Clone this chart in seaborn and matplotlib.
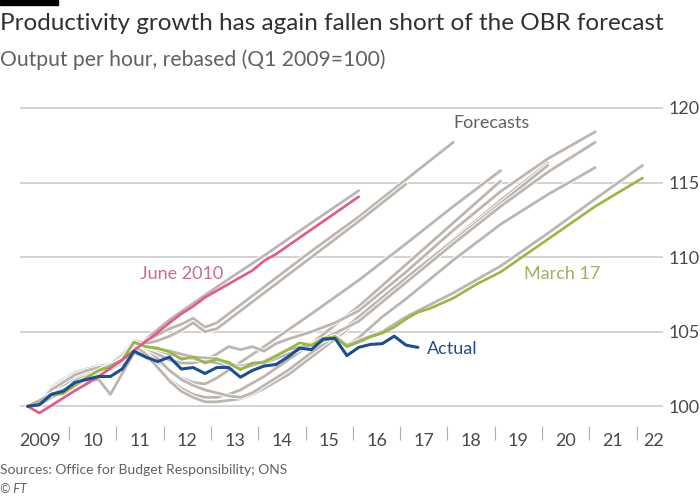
import numpy as np
import pandas as pd
import matplotlib
matplotlib.use("Agg")
import matplotlib.pyplot as plt
import matplotlib.patheffects as pe
from matplotlib.patches import Rectangle
import seaborn as sns

# Quarter index 0 = Q1 2009; output per hour, Q1 2009 = 100
actual = [100.0, 100.1, 100.8, 101.0, 101.6, 101.8, 102.0, 102.0, 102.5, 103.7,
          103.3, 103.0, 103.3, 102.5, 102.6, 102.2, 102.6, 102.6, 101.95, 102.4,
          102.7, 102.8, 103.3, 103.9, 103.8, 104.5, 104.55, 103.4, 103.95, 104.15,
          104.2, 104.7, 104.1, 103.95]

june_2010 = [100.0, 99.55, 100.05, 100.55, 101.05, 101.5, 102.0, 102.55, 103.1, 103.75,
             104.35, 104.95, 105.6, 106.2, 106.7, 107.3, 107.75, 108.2, 108.65, 109.1,
             109.75, 110.2, 110.75, 111.3, 111.85, 112.4, 112.95, 113.5, 114.05]

march_17_q = list(range(34)) + [34, 36, 38, 40, 42, 44, 48, 52]
march_17 = [100.0, 100.2, 100.75, 100.85, 101.4, 101.95, 102.4, 102.65, 103.1, 104.3,
            104.0, 103.9, 103.65, 103.15, 103.3, 102.9, 103.15, 102.95, 102.45, 102.9,
            102.95, 103.35, 103.8, 104.25, 104.1, 104.55, 104.65, 104.0, 104.3, 104.65,
            104.9, 105.3, 105.85, 106.3,
            106.55, 107.25, 108.2, 109.0, 110.1, 111.2, 113.4, 115.3]

# Earlier OBR forecast vintages (grey): quarter index knots and values
fc_a_q = [0, 1, 2, 3, 4, 5, 6, 7, 8, 9, 10, 12, 16, 20, 24, 28]
fc_a_v = [100.0, 100.1, 100.7, 101.1, 101.5, 101.9, 102.3, 102.7, 103.3, 103.9,
          104.5, 105.8, 108.0, 110.1, 112.3, 114.45]

fc_b_q = [0, 1, 2, 3, 4, 5, 6, 7, 8, 9, 10, 11, 12, 13, 14, 15, 16, 20, 24, 28, 32, 36]
fc_b_v = [100.0, 100.2, 101.0, 101.5, 102.0, 102.3, 102.5, 102.6, 103.0, 104.0,
          104.4, 104.8, 105.2, 105.5, 105.9, 105.3, 105.6, 108.0, 110.4, 112.7, 115.2, 117.7]

fc_c_q = [0, 1, 2, 3, 4, 5, 6, 7, 8, 9, 10, 11, 12, 13, 14, 15, 16, 20, 24, 28, 32]
fc_c_v = [100.0, 100.3, 101.3, 101.8, 102.3, 102.5, 102.7, 102.8, 103.5, 104.4,
          104.2, 104.4, 104.7, 105.1, 105.6, 105.0, 105.2, 107.6, 110.0, 112.4, 114.9]

fc_d_q = [0, 1, 2, 3, 4, 5, 6, 7, 8, 9, 10, 11, 12, 13, 14, 15, 16, 20, 24, 28, 32, 36, 40]
fc_d_v = [100.0, 100.2, 100.9, 101.3, 101.8, 102.1, 102.3, 102.5, 102.9, 103.9,
          103.6, 103.0, 102.4, 101.9, 101.6, 101.5, 101.9, 104.0, 106.2, 108.45,
          110.9, 113.4, 115.8]

fc_e_q = [0, 1, 2, 3, 4, 5, 6, 7, 8, 9, 10, 11, 12, 13, 14, 15, 16, 17, 18, 20, 24, 28,
          32, 36, 40]
fc_e_v = [100.0, 100.1, 100.6, 101.0, 101.4, 101.7, 101.8, 100.8, 102.2, 103.6,
          103.3, 102.6, 101.8, 101.2, 100.8, 100.6, 100.6, 100.8, 101.1, 102.0, 104.2,
          106.7, 109.5, 112.3, 115.1]

fc_f_q = [0, 1, 2, 3, 4, 5, 6, 7, 8, 9, 10, 11, 12, 13, 14, 15, 16, 17, 18, 19, 20, 22,
          24, 26, 28, 32, 36, 40, 44]
fc_f_v = [100.0, 100.2, 101.0, 101.4, 102.0, 102.3, 102.5, 102.6, 103.1, 104.1,
          103.5, 102.6, 101.7, 101.0, 100.6, 100.3, 100.3, 100.4, 100.5, 100.8, 101.2,
          102.1, 103.3, 104.5, 105.8, 108.5, 111.2, 113.8, 116.3]

fc_g_q = [0, 1, 2, 3, 4, 5, 6, 7, 8, 9, 10, 11, 12, 13, 14, 15, 16, 17, 18, 19, 20, 22,
          24, 26, 28, 32, 36, 40, 44]
fc_g_v = [100.0, 100.3, 101.2, 101.7, 102.2, 102.5, 102.7, 102.8, 103.4, 104.3,
          103.9, 103.2, 102.4, 101.8, 101.4, 101.1, 100.9, 100.7, 100.6, 100.9, 101.4,
          102.4, 103.6, 104.7, 106.0, 108.6, 111.1, 113.6, 116.15]

fc_h_q = [0, 1, 2, 3, 4, 5, 6, 7, 8, 9, 10, 11, 12, 13, 14, 15, 16, 17, 18, 19, 20, 21,
          22, 24, 26, 28, 32, 36, 40, 44, 48]
fc_h_v = [100.0, 100.2, 101.1, 101.6, 102.1, 102.4, 102.6, 102.7, 103.2, 104.2,
          103.9, 103.5, 103.1, 102.9, 102.9, 103.1, 103.5, 104.0, 103.8, 104.0, 103.7,
          104.2, 104.5, 105.0, 105.6, 106.4, 109.0, 111.8, 114.4, 116.6, 118.4]

fc_i_q = [0, 2, 4, 6, 8, 9, 10, 12, 14, 16, 18, 20, 22, 24, 25, 26, 28, 32, 36, 40, 44, 48]
fc_i_v = [100.0, 100.8, 101.5, 102.3, 103.0, 104.2, 104.0, 103.6, 103.2, 103.0, 102.7,
          103.0, 103.6, 104.2, 104.5, 104.9, 105.7, 108.3, 110.9, 113.4, 115.7, 117.7]

fc_j_q = [0, 2, 4, 6, 8, 9, 10, 12, 14, 16, 18, 20, 22, 24, 26, 27, 28, 30, 32, 36, 40,
          44, 48]
fc_j_v = [100.0, 100.8, 101.4, 102.3, 103.1, 104.3, 104.0, 103.5, 103.2, 102.9, 102.5,
          102.9, 103.5, 104.1, 104.7, 104.1, 104.6, 106.0, 107.2, 109.8, 112.2, 114.2, 116.0]

fc_k_q = [0, 2, 4, 6, 8, 9, 10, 12, 14, 16, 18, 20, 22, 24, 26, 27, 28, 30, 32, 34, 36,
          40, 44, 48, 52]
fc_k_v = [100.0, 100.8, 101.4, 102.4, 103.1, 104.3, 104.0, 103.7, 103.3, 103.2, 102.5,
          103.0, 103.8, 104.1, 104.7, 104.1, 104.4, 105.0, 106.0, 106.8, 107.6, 109.4,
          111.6, 113.9, 116.15]

forecasts = {
    "a": (fc_a_q, fc_a_v), "b": (fc_b_q, fc_b_v), "c": (fc_c_q, fc_c_v),
    "d": (fc_d_q, fc_d_v), "e": (fc_e_q, fc_e_v), "f": (fc_f_q, fc_f_v),
    "g": (fc_g_q, fc_g_v), "h": (fc_h_q, fc_h_v), "i": (fc_i_q, fc_i_v),
    "j": (fc_j_q, fc_j_v), "k": (fc_k_q, fc_k_v),
}

year_labels = ["2009", "10", "11", "12", "13", "14", "15", "16", "17", "18", "19",
               "20", "21", "22"]
y_ticks = [100, 105, 110, 115, 120]

GREY = "#bdb6b0"
PINK = "#e05b8a"
GREEN = "#99b745"
BLUE = "#1d4f8f"
TEXT = "#33302e"
MUTED = "#66605c"


def qx(q):
    """Quarter index -> decimal year (middle of the quarter)"""
    return 2009 + np.asarray(q, dtype=float) / 4 + 0.125


grey_df = pd.concat([
    pd.DataFrame({"vintage": name, "date": qx(q), "value": v})
    for name, (q, v) in forecasts.items()
])
actual_df = pd.DataFrame({"date": qx(range(len(actual))), "value": actual})
june_df = pd.DataFrame({"date": qx(range(len(june_2010))), "value": june_2010})
march_df = pd.DataFrame({"date": qx(march_17_q), "value": march_17})

sns.set_theme(style="white")
plt.rcParams["font.family"] = ["Lato", "DejaVu Sans"]

fig = plt.figure(figsize=(7, 5), dpi=100)
fig.patch.set_facecolor("white")
ax = fig.add_axes([20 / 700, 74 / 500, 643 / 700, 336 / 500])

for y in y_ticks:
    ax.axhline(y, color="#c9c6c4", lw=1.1, zorder=0)

outline = [pe.Stroke(linewidth=3.4, foreground="white"), pe.Normal()]
sns.lineplot(data=grey_df, x="date", y="value", units="vintage", estimator=None,
             sort=False, color=GREY, lw=2.0, ax=ax, legend=False,
             path_effects=outline, zorder=2)
sns.lineplot(data=march_df, x="date", y="value", color=GREEN, lw=1.9, ax=ax,
             zorder=3)
sns.lineplot(data=june_df, x="date", y="value", color=PINK, lw=1.9, ax=ax, zorder=4)
sns.lineplot(data=actual_df, x="date", y="value", color=BLUE, lw=2.2, ax=ax, zorder=5)

ax.set_xlim(2008.964, 2022.558)
ax.set_ylim(98.68, 121.2)
for s in ax.spines.values():
    s.set_visible(False)
ax.set_xlabel("")
ax.set_ylabel("")

ax.yaxis.tick_right()
ax.set_yticks(y_ticks)
ax.tick_params(axis="y", length=0, pad=4, labelsize=13, labelcolor="#4d4845")

label_pos = [2009.39] + [y + 0.5 for y in range(2010, 2022)] + [2022.35]
ax.set_xticks(range(2010, 2023))
ax.set_xticklabels([])
ax.set_xticks(label_pos, minor=True)
ax.set_xticklabels(year_labels, minor=True)
ax.tick_params(axis="x", which="major", length=10, width=0.8, color="#b5afaa",
               direction="out", bottom=True)
ax.tick_params(axis="x", which="minor", length=0, pad=5, labelsize=13,
               labelcolor="#4d4845", bottom=True)

ax.text(2018.94, 119.0, "Forecasts", color=MUTED, fontsize=13, ha="center", va="center")
ax.text(2012.39, 108.87, "June 2010", color="#cc6a8b", fontsize=13, ha="center",
        va="center")
ax.text(2020.42, 108.87, "March 17", color="#9cb064", fontsize=13, ha="center",
        va="center")
ax.text(2018.10, 103.84, "Actual", color=BLUE, fontsize=13, ha="center", va="center")

fig.patches.append(Rectangle((0, 1 - 5 / 500), 58 / 700, 5 / 500,
                             transform=fig.transFigure, color="black"))
fig.text(0, 1 - 23 / 500, "Productivity growth has again fallen short of the OBR forecast",
         fontsize=17.5, color=TEXT, ha="left", va="center")
fig.text(0, 1 - 60 / 500, "Output per hour, rebased (Q1 2009=100)",
         fontsize=15.2, color=MUTED, ha="left", va="center")
fig.text(0, 1 - 470 / 500, "Sources: Office for Budget Responsibility; ONS",
         fontsize=10, color=MUTED, ha="left", va="center")
fig.text(0, 1 - 489 / 500, "© FT", fontsize=9, color=MUTED, ha="left", va="center",
         style="italic")

fig.savefig("out.png", dpi=100, facecolor="white")
